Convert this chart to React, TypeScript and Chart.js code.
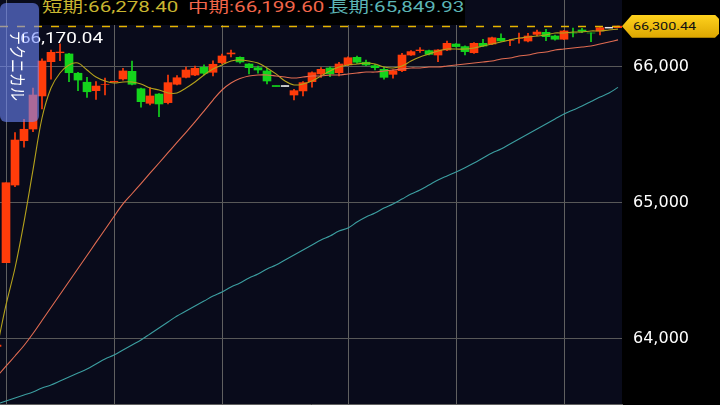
import React, { useEffect, useRef } from 'react';
import { Chart, registerables } from 'chart.js';

Chart.register(...registerables);

// candles (left to right, one per bar)
const opens = [
  63945, 64561, 65132, 65458, 65544, 65787, 66039, 66105, 66096, 65954,
  65888, 65826, 65870, 65892, 65912, 65968, 65840, 65733, 65801, 65738,
  65873, 65924, 65941, 65998, 65961, 66032, 66096, 66071, 66022, 65995,
  65971, 65860, 65860, 65794, 65824, 65892, 65949, 65993, 65958, 66015,
  66071, 66035, 66010, 65983, 65946, 65973, 66088, 66120, 66120, 66088,
  66125, 66169, 66150, 66105, 66174, 66169, 66211, 66195, 66210, 66191,
  66240, 66255, 66228, 66204, 66250, 66272, 66250, 66265, 66289, 66289,
];
const highs = [
  63960, 65149, 65517, 65615, 65845, 66060, 66125, 66170.04, 66100, 65960,
  65924, 65892, 65919, 65892, 65990, 66044, 65845, 65848, 65805, 65941,
  65936, 66000, 66007, 66015, 66046, 66095, 66125, 66075, 66025, 66007,
  65990, 65860, 65860, 65836, 65892, 65965, 65995, 66002, 66034, 66075,
  66081, 66051, 66020, 65998, 65980, 66101, 66120, 66142, 66125, 66128,
  66191, 66172, 66155, 66180, 66204, 66220, 66243, 66204, 66250, 66248,
  66272, 66277, 66235, 66270, 66287, 66284, 66252, 66289, 66289, 66300.44,
];
const lows = [
  63940, 64561, 65120, 65410, 65524, 65691, 65910, 66046, 65892, 65826,
  65777, 65762, 65794, 65892, 65904, 65868, 65704, 65721, 65635, 65728,
  65868, 65920, 65936, 65941, 65934, 66025, 66074, 66029, 65949, 65954,
  65875, 65860, 65860, 65757, 65787, 65851, 65924, 65929, 65934, 66010,
  66027, 66010, 65978, 65910, 65917, 65965, 66085, 66108, 66088, 66039,
  66120, 66145, 66088, 66100, 66150, 66165, 66188, 66157, 66176, 66185,
  66228, 66193, 66198, 66200, 66221, 66252, 66186, 66235, 66289, 66289,
];
const closes = [
  63955, 65149, 65463, 65542, 65794, 66044, 66108, 66110, 65958, 65904,
  65818, 65860, 65870, 65892, 65971, 65873, 65745, 65787, 65728, 65885,
  65921, 65978, 65990, 65954, 66020, 66081, 66103, 66037, 65995, 65978,
  65897, 65860, 65860, 65826, 65885, 65958, 65983, 65949, 66022, 66068,
  66035, 66015, 65995, 65924, 65973, 66088, 66113, 66125, 66093, 66125,
  66174, 66150, 66113, 66174, 66154, 66215, 66191, 66195, 66210, 66228,
  66257, 66223, 66204, 66265, 66250, 66262, 66250, 66289, 66289, 66300.44,
];

// moving averages (short / mid / long)
const maShort = [
  63934, 64250, 64522, 64860, 65243, 65625, 65846, 65956, 66015, 66029,
  65978, 65926, 65897, 65882, 65890, 65890, 65875, 65846, 65831, 65809,
  65809, 65846, 65890, 65941, 65985, 66015, 66044, 66051, 66044, 66029,
  65993, 65949, 65897, 65868, 65875, 65897, 65934, 65971, 66000, 66015,
  66022, 66029, 66022, 66000, 65993, 66007, 66044, 66074, 66096, 66118,
  66132, 66132, 66132, 66140, 66154, 66169, 66184, 66199, 66213, 66221,
  66228, 66235, 66250, 66250, 66257, 66257, 66265, 66265, 66272, 66278.4,
];
const maMid = [
  63724, 63801, 63875, 63952, 64040, 64136, 64232, 64327, 64423, 64518,
  64614, 64710, 64805, 64901, 64993, 65068, 65143, 65219, 65294, 65370,
  65445, 65520, 65596, 65676, 65757, 65831, 65882, 65915, 65934, 65941,
  65941, 65934, 65926, 65919, 65926, 65934, 65934, 65941, 65941, 65949,
  65956, 65963, 65963, 65971, 65978, 65985, 65993, 65993, 66000, 66000,
  66007, 66015, 66022, 66029, 66037, 66044, 66059, 66066, 66081, 66088,
  66103, 66110, 66125, 66132, 66140, 66147, 66154, 66169, 66184, 66199.6,
];
const maLong = [
  63522, 63544, 63566, 63588, 63610, 63640, 63662, 63691, 63721, 63750,
  63779, 63816, 63853, 63882, 63919, 63956, 63993, 64037, 64081, 64125,
  64169, 64206, 64243, 64279, 64316, 64346, 64382, 64412, 64449, 64478,
  64515, 64544, 64581, 64618, 64654, 64691, 64728, 64757, 64794, 64816,
  64860, 64897, 64926, 64963, 64993, 65029, 65066, 65096, 65132, 65169,
  65199, 65228, 65260, 65294, 65331, 65368, 65397, 65434, 65471, 65507,
  65544, 65581, 65618, 65654, 65684, 65713, 65746, 65779, 65809, 65849.93,
];

const maNames = ['短期', '中期', '長期'];
const yTicks = [64000, 65000, 66000];
// vertical time grid, in bar index units
const timeGrid = [1.1, 13.1, 25.1, 39.0, 51.1, 63.0];
const highMark = 66170.04;
const panelTitle = 'テクニカル';

const UP = '#ff3c0a';
const DOWN = '#14d41c';
const FLAT = '#e8e8e8';
const lineColors = ['#b5a21c', '#e26c52', '#3c9ea0'];
const textColors = ['#c9b630', '#f2664a', '#5cb5b5'];

const lastPrice = closes[closes.length - 1];

const fmt = (v: number, d = 0) =>
  v.toLocaleString('en-US', { minimumFractionDigits: d, maximumFractionDigits: d });

function candleColor(i: number) {
  if (closes[i] > opens[i]) return UP;
  if (closes[i] < opens[i]) return DOWN;
  const prev = i > 0 ? closes[i - 1] : closes[i];
  if (closes[i] > prev) return UP;
  if (closes[i] < prev) return DOWN;
  return FLAT;
}

const NUM_FONT = 'Roboto, "Noto Sans CJK JP", sans-serif';

export default function App() {
  const canvasRef = useRef<HTMLCanvasElement>(null);
  const tagRef = useRef<HTMLDivElement>(null);

  useEffect(() => {
    document.body.style.margin = '0';
    const canvas = canvasRef.current;
    if (!canvas) return;

    const colors = closes.map((_, i) => candleColor(i));
    const flat = closes
      .map((_, i) => i)
      .filter((i) => opens[i] === closes[i] && highs[i] === lows[i]);

    const chartDecor = {
      id: 'chartDecor',
      beforeDraw(chart: any) {
        const { ctx, chartArea: a } = chart;
        ctx.save();
        ctx.fillStyle = '#090b1b';
        ctx.fillRect(a.left, a.top, a.right - a.left, a.bottom - a.top);
        ctx.restore();
      },
      afterDatasetsDraw(chart: any) {
        const { ctx, chartArea: a } = chart;
        const y = Math.round(chart.scales.y.getPixelForValue(lastPrice)) + 0.5;
        ctx.save();
        ctx.strokeStyle = '#e6b400';
        ctx.lineWidth = 1.3;
        ctx.setLineDash([8, 9]);
        ctx.beginPath();
        ctx.moveTo(a.left, y);
        ctx.lineTo(a.right, y);
        ctx.stroke();
        ctx.restore();
      },
    };

    const maLine = (data: number[], color: string) => ({
      type: 'line' as const,
      data: data.map((v, i) => ({ x: i, y: v })),
      borderColor: color,
      borderWidth: 1.1,
      pointRadius: 0,
      tension: 0.35,
      order: 0,
    });

    const chart = new Chart(canvas, {
      type: 'bar',
      data: {
        datasets: [
          maLine(maLong, lineColors[2]),
          maLine(maMid, lineColors[1]),
          maLine(maShort, lineColors[0]),
          {
            type: 'scatter',
            data: flat.map((i) => ({ x: i, y: closes[i] })),
            pointStyle: 'line',
            pointRadius: 4,
            borderWidth: 1.5,
            borderColor: flat.map((i) => colors[i]),
            backgroundColor: flat.map((i) => colors[i]),
            order: 1,
          },
          {
            type: 'bar',
            data: closes.map((c, i) => ({ x: i, y: [opens[i], c] })),
            backgroundColor: colors,
            barThickness: 8,
            grouped: false,
            order: 2,
          },
          {
            type: 'bar',
            data: closes.map((_, i) => ({ x: i, y: [lows[i], highs[i]] })),
            backgroundColor: colors,
            barThickness: 1,
            grouped: false,
            order: 3,
          },
        ] as any,
      },
      options: {
        responsive: true,
        maintainAspectRatio: false,
        animation: false,
        layout: { padding: 0, autoPadding: false },
        plugins: { legend: { display: false }, tooltip: { enabled: false } },
        scales: {
          x: {
            type: 'linear',
            offset: false,
            min: 1 / 3,
            max: 1 / 3 + 622 / 9,
            ticks: { display: false },
            grid: { color: '#606060', drawTicks: false, offset: false },
            border: { color: '#606060' },
            afterBuildTicks: (s: any) => {
              s.ticks = timeGrid.map((v) => ({ value: v }));
            },
            afterFit: (s: any) => {
              s.height = 1;
              s.paddingLeft = 0;
              s.paddingRight = 0;
            },
          },
          y: {
            position: 'right',
            min: 63522,
            max: 66492.6,
            ticks: {
              color: '#ffffff',
              font: { family: 'DejaVu Sans', size: 16 },
              padding: 11,
              callback: (v: any) => fmt(Number(v)),
            },
            grid: { color: '#585858', drawTicks: false },
            border: { display: false },
            afterBuildTicks: (s: any) => {
              s.ticks = yTicks.map((v) => ({ value: v }));
            },
            afterFit: (s: any) => {
              s.width = 98;
              s.paddingTop = 0;
              s.paddingBottom = 0;
            },
          },
        },
      } as any,
      plugins: [chartDecor],
    });

    if (tagRef.current) {
      tagRef.current.style.top = `${chart.scales.y.getPixelForValue(lastPrice) - 11.5}px`;
    }

    return () => {
      chart.destroy();
    };
  }, []);

  const maLast = [maShort, maMid, maLong].map((a) => a[a.length - 1]);
  const legendLeft = [42, 188, 328];

  return (
    <div style={{ position: 'relative', width: 720, height: 405, background: '#000', overflow: 'hidden' }}>
      <canvas ref={canvasRef} style={{ display: 'block' }} />

      {/* legend strip */}
      <div style={{ position: 'absolute', left: 40, top: 0, width: 425, height: 25, background: '#000' }} />
      {maNames.map((n, i) => (
        <div
          key={n}
          style={{
            position: 'absolute',
            left: legendLeft[i],
            top: 0,
            fontFamily: NUM_FONT,
            fontSize: 15,
            lineHeight: '15px',
            color: textColors[i],
            whiteSpace: 'nowrap',
            transform: 'scaleX(1.37)',
            transformOrigin: 'left top',
          }}
        >
          {n}:{fmt(maLast[i], 2)}
        </div>
      ))}

      {/* high marker */}
      <div
        style={{
          position: 'absolute',
          left: 20,
          top: 31,
          fontFamily: NUM_FONT,
          fontSize: 14,
          lineHeight: '14px',
          color: '#ffffff',
          whiteSpace: 'nowrap',
          transform: 'scaleX(1.35)',
          transformOrigin: 'left top',
        }}
      >
        {fmt(highMark, 2)}
      </div>

      {/* side panel */}
      <div
        style={{
          position: 'absolute',
          left: 0,
          top: 3,
          width: 39,
          height: 119,
          borderRadius: 6,
          background: 'rgba(112, 138, 255, 0.58)',
        }}
      >
        <div
          style={{
            position: 'absolute',
            left: 10,
            top: 28,
            writingMode: 'vertical-rl',
            textOrientation: 'sideways',
            fontFamily: '"Noto Sans CJK JP", sans-serif',
            fontSize: 14,
            lineHeight: '14px',
            color: '#ffffff',
            transform: 'scaleX(1.2)',
            transformOrigin: 'left top',
          }}
        >
          {panelTitle}
        </div>
      </div>

      {/* last price tag */}
      <div
        ref={tagRef}
        style={{
          position: 'absolute',
          left: 622,
          top: 14,
          width: 97,
          height: 23,
          background: 'linear-gradient(#ffd21e, #dca600)',
          clipPath:
            'polygon(0 50%, 10px 0, calc(100% - 4px) 0, 100% 4px, 100% calc(100% - 4px), calc(100% - 4px) 100%, 10px 100%)',
        }}
      >
        <div
          style={{
            position: 'absolute',
            left: 11,
            top: 0,
            fontFamily: NUM_FONT,
            fontSize: 11.5,
            lineHeight: '23px',
            color: '#111111',
            whiteSpace: 'nowrap',
            transform: 'scaleX(1.25)',
            transformOrigin: 'left top',
          }}
        >
          {fmt(lastPrice, 2)}
        </div>
      </div>
    </div>
  );
}
